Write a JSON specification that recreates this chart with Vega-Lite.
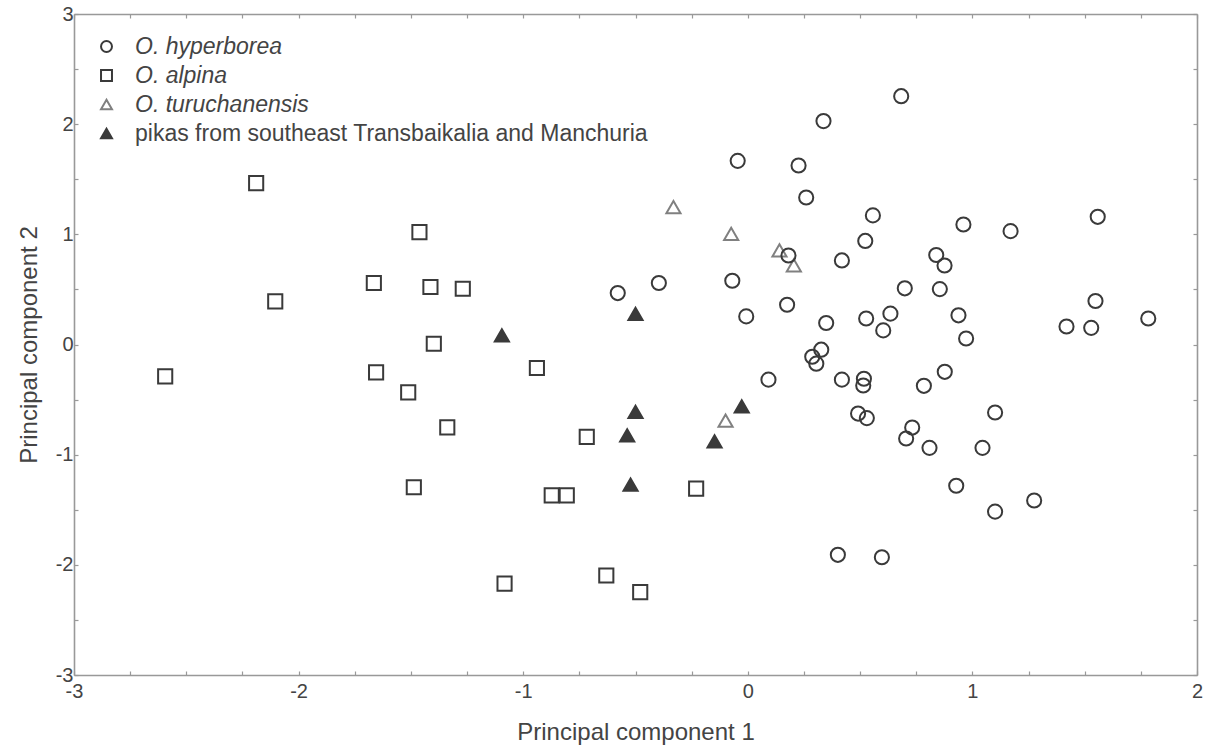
{
  "$schema": "https://vega.github.io/schema/vega-lite/v6.json",
  "width": 1123,
  "height": 661,
  "autosize": "none",
  "padding": {"left": 74, "top": 14, "right": 13, "bottom": 72},
  "background": "white",
  "config": {
    "font": "Liberation Sans",
    "view": {"stroke": null},
    "axis": {
      "grid": false,
      "domainColor": "#999999",
      "domainWidth": 1.6,
      "tickColor": "#999999",
      "tickWidth": 1.2,
      "tickSize": -4,
      "labelFont": "Liberation Sans",
      "labelFontSize": 20,
      "labelColor": "#444444",
      "titleFont": "Liberation Sans",
      "titleFontSize": 24,
      "titleFontWeight": "normal",
      "titleColor": "#444444"
    }
  },
  "data": {
    "values": [
      {"pc1": -2.189, "pc2": 1.465, "group": "O. alpina"},
      {"pc1": -2.104, "pc2": 0.391, "group": "O. alpina"},
      {"pc1": -2.594, "pc2": -0.289, "group": "O. alpina"},
      {"pc1": -1.462, "pc2": 1.020, "group": "O. alpina"},
      {"pc1": -1.665, "pc2": 0.558, "group": "O. alpina"},
      {"pc1": -1.413, "pc2": 0.522, "group": "O. alpina"},
      {"pc1": -1.269, "pc2": 0.506, "group": "O. alpina"},
      {"pc1": -1.398, "pc2": 0.007, "group": "O. alpina"},
      {"pc1": -1.655, "pc2": -0.253, "group": "O. alpina"},
      {"pc1": -1.512, "pc2": -0.434, "group": "O. alpina"},
      {"pc1": -1.338, "pc2": -0.752, "group": "O. alpina"},
      {"pc1": -0.939, "pc2": -0.213, "group": "O. alpina"},
      {"pc1": -1.487, "pc2": -1.296, "group": "O. alpina"},
      {"pc1": -0.717, "pc2": -0.839, "group": "O. alpina"},
      {"pc1": -0.873, "pc2": -1.369, "group": "O. alpina"},
      {"pc1": -0.806, "pc2": -1.369, "group": "O. alpina"},
      {"pc1": -0.230, "pc2": -1.308, "group": "O. alpina"},
      {"pc1": -1.083, "pc2": -2.170, "group": "O. alpina"},
      {"pc1": -0.630, "pc2": -2.097, "group": "O. alpina"},
      {"pc1": -0.479, "pc2": -2.248, "group": "O. alpina"},
      {"pc1": -0.331, "pc2": 1.247, "group": "O. turuchanensis"},
      {"pc1": -0.074, "pc2": 1.005, "group": "O. turuchanensis"},
      {"pc1": 0.141, "pc2": 0.854, "group": "O. turuchanensis"},
      {"pc1": 0.205, "pc2": 0.718, "group": "O. turuchanensis"},
      {"pc1": -0.099, "pc2": -0.691, "group": "O. turuchanensis"},
      {"pc1": -1.095, "pc2": 0.083, "group": "pikas from southeast Transbaikalia and Manchuria"},
      {"pc1": -0.500, "pc2": 0.277, "group": "pikas from southeast Transbaikalia and Manchuria"},
      {"pc1": -0.500, "pc2": -0.612, "group": "pikas from southeast Transbaikalia and Manchuria"},
      {"pc1": -0.537, "pc2": -0.824, "group": "pikas from southeast Transbaikalia and Manchuria"},
      {"pc1": -0.522, "pc2": -1.272, "group": "pikas from southeast Transbaikalia and Manchuria"},
      {"pc1": -0.148, "pc2": -0.879, "group": "pikas from southeast Transbaikalia and Manchuria"},
      {"pc1": -0.027, "pc2": -0.561, "group": "pikas from southeast Transbaikalia and Manchuria"},
      {"pc1": -0.579, "pc2": 0.467, "group": "O. hyperborea"},
      {"pc1": -0.396, "pc2": 0.558, "group": "O. hyperborea"},
      {"pc1": -0.069, "pc2": 0.579, "group": "O. hyperborea"},
      {"pc1": -0.045, "pc2": 1.667, "group": "O. hyperborea"},
      {"pc1": -0.007, "pc2": 0.255, "group": "O. hyperborea"},
      {"pc1": 0.092, "pc2": -0.319, "group": "O. hyperborea"},
      {"pc1": 0.175, "pc2": 0.361, "group": "O. hyperborea"},
      {"pc1": 0.181, "pc2": 0.808, "group": "O. hyperborea"},
      {"pc1": 0.226, "pc2": 1.625, "group": "O. hyperborea"},
      {"pc1": 0.260, "pc2": 1.334, "group": "O. hyperborea"},
      {"pc1": 0.327, "pc2": -0.047, "group": "O. hyperborea"},
      {"pc1": 0.287, "pc2": -0.111, "group": "O. hyperborea"},
      {"pc1": 0.305, "pc2": -0.174, "group": "O. hyperborea"},
      {"pc1": 0.349, "pc2": 0.195, "group": "O. hyperborea"},
      {"pc1": 0.337, "pc2": 2.028, "group": "O. hyperborea"},
      {"pc1": 0.401, "pc2": -1.909, "group": "O. hyperborea"},
      {"pc1": 0.419, "pc2": 0.763, "group": "O. hyperborea"},
      {"pc1": 0.419, "pc2": -0.319, "group": "O. hyperborea"},
      {"pc1": 0.517, "pc2": -0.311, "group": "O. hyperborea"},
      {"pc1": 0.514, "pc2": -0.372, "group": "O. hyperborea"},
      {"pc1": 0.491, "pc2": -0.627, "group": "O. hyperborea"},
      {"pc1": 0.530, "pc2": -0.668, "group": "O. hyperborea"},
      {"pc1": 0.523, "pc2": 0.940, "group": "O. hyperborea"},
      {"pc1": 0.527, "pc2": 0.236, "group": "O. hyperborea"},
      {"pc1": 0.557, "pc2": 1.172, "group": "O. hyperborea"},
      {"pc1": 0.597, "pc2": -1.931, "group": "O. hyperborea"},
      {"pc1": 0.603, "pc2": 0.128, "group": "O. hyperborea"},
      {"pc1": 0.635, "pc2": 0.280, "group": "O. hyperborea"},
      {"pc1": 0.683, "pc2": 2.254, "group": "O. hyperborea"},
      {"pc1": 0.699, "pc2": 0.510, "group": "O. hyperborea"},
      {"pc1": 0.705, "pc2": -0.853, "group": "O. hyperborea"},
      {"pc1": 0.732, "pc2": -0.754, "group": "O. hyperborea"},
      {"pc1": 0.784, "pc2": -0.375, "group": "O. hyperborea"},
      {"pc1": 0.809, "pc2": -0.938, "group": "O. hyperborea"},
      {"pc1": 0.839, "pc2": 0.812, "group": "O. hyperborea"},
      {"pc1": 0.855, "pc2": 0.503, "group": "O. hyperborea"},
      {"pc1": 0.876, "pc2": 0.717, "group": "O. hyperborea"},
      {"pc1": 0.877, "pc2": -0.248, "group": "O. hyperborea"},
      {"pc1": 0.928, "pc2": -1.282, "group": "O. hyperborea"},
      {"pc1": 0.938, "pc2": 0.265, "group": "O. hyperborea"},
      {"pc1": 0.960, "pc2": 1.089, "group": "O. hyperborea"},
      {"pc1": 0.972, "pc2": 0.054, "group": "O. hyperborea"},
      {"pc1": 1.045, "pc2": -0.938, "group": "O. hyperborea"},
      {"pc1": 1.101, "pc2": -0.617, "group": "O. hyperborea"},
      {"pc1": 1.101, "pc2": -1.517, "group": "O. hyperborea"},
      {"pc1": 1.170, "pc2": 1.029, "group": "O. hyperborea"},
      {"pc1": 1.275, "pc2": -1.416, "group": "O. hyperborea"},
      {"pc1": 1.419, "pc2": 0.163, "group": "O. hyperborea"},
      {"pc1": 1.529, "pc2": 0.151, "group": "O. hyperborea"},
      {"pc1": 1.548, "pc2": 0.395, "group": "O. hyperborea"},
      {"pc1": 1.558, "pc2": 1.159, "group": "O. hyperborea"},
      {"pc1": 1.783, "pc2": 0.236, "group": "O. hyperborea"}
    ]
  },
  "layer": [
    {
      "mark": {"type": "point", "filled": true, "size": 200, "strokeWidth": 2, "opacity": 1},
      "encoding": {
        "x": {
          "field": "pc1", "type": "quantitative",
          "scale": {"domain": [-3, 2], "nice": false, "zero": false},
          "axis": {
            "title": "Principal component 1",
            "values": [-3, -2.75, -2.5, -2.25, -2, -1.75, -1.5, -1.25, -1, -0.75, -0.5, -0.25, 0, 0.25, 0.5, 0.75, 1, 1.25, 1.5, 1.75, 2],
            "labelExpr": "datum.value % 1 == 0 ? toString(datum.value) : ''",
            "labelPadding": 10,
            "labelFlush": false,
            "labelOverlap": false,
            "titlePadding": 19
          }
        },
        "y": {
          "field": "pc2", "type": "quantitative",
          "scale": {"domain": [-3, 3], "nice": false, "zero": false},
          "axis": {
            "title": "Principal component 2",
            "values": [-3, -2.5, -2, -1.5, -1, -0.5, 0, 0.5, 1, 1.5, 2, 2.5, 3],
            "labelExpr": "datum.value % 1 == 0 ? toString(datum.value) : ''",
            "labelPadding": 5,
            "labelFlush": false,
            "labelOverlap": false,
            "titlePadding": 14
          }
        },
        "shape": {
          "field": "group", "type": "nominal",
          "scale": {
            "domain": ["O. hyperborea", "O. alpina", "O. turuchanensis", "pikas from southeast Transbaikalia and Manchuria"],
            "range": ["circle", "square", "triangle-up", "triangle-up"]
          },
          "legend": {
            "title": null,
            "orient": "none",
            "legendX": 21,
            "legendY": 21,
            "padding": 0,
            "symbolSize": 120,
            "symbolStrokeWidth": 2,
            "labelFont": "Liberation Sans",
            "labelFontSize": 23,
            "labelColor": "#444444",
            "labelOffset": 17,
            "rowPadding": 5,
            "labelLimit": 900,
            "labelFontStyle": {"expr": "datum.value == 'pikas from southeast Transbaikalia and Manchuria' ? 'normal' : 'italic'"}
          }
        },
        "fill": {
          "field": "group", "type": "nominal",
          "scale": {
            "domain": ["O. hyperborea", "O. alpina", "O. turuchanensis", "pikas from southeast Transbaikalia and Manchuria"],
            "range": ["transparent", "transparent", "transparent", "#3a3a3a"]
          }
        },
        "stroke": {
          "field": "group", "type": "nominal",
          "scale": {
            "domain": ["O. hyperborea", "O. alpina", "O. turuchanensis", "pikas from southeast Transbaikalia and Manchuria"],
            "range": ["#3a3a3a", "#3a3a3a", "#808080", "#3a3a3a"]
          }
        }
      }
    },
    {
      "mark": {"type": "point", "opacity": 0},
      "encoding": {
        "x": {
          "field": "pc1", "type": "quantitative",
          "axis": {
            "orient": "top", "title": null, "labels": false,
            "values": [-3, -2.75, -2.5, -2.25, -2, -1.75, -1.5, -1.25, -1, -0.75, -0.5, -0.25, 0, 0.25, 0.5, 0.75, 1, 1.25, 1.5, 1.75, 2]
          }
        },
        "y": {
          "field": "pc2", "type": "quantitative",
          "axis": {
            "orient": "right", "title": null, "labels": false,
            "values": [-3, -2.5, -2, -1.5, -1, -0.5, 0, 0.5, 1, 1.5, 2, 2.5, 3]
          }
        }
      }
    }
  ],
  "resolve": {"axis": {"x": "independent", "y": "independent"}}
}
